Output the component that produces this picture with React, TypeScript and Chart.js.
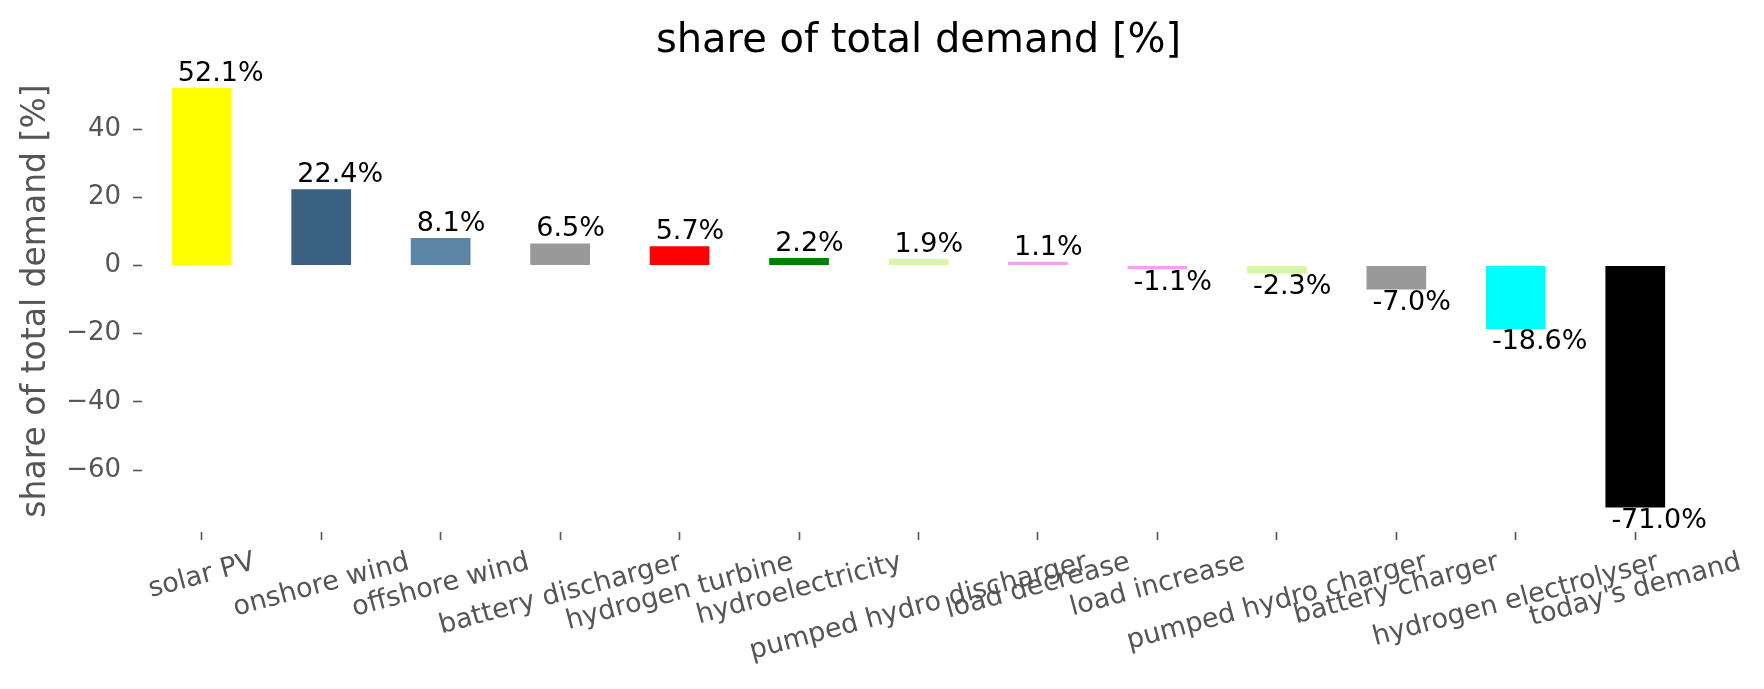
import React, { useEffect, useRef } from 'react';
import { Chart, registerables } from 'chart.js';

Chart.register(...registerables);

const categories = [
  'solar PV',
  'onshore wind',
  'offshore wind',
  'battery discharger',
  'hydrogen turbine',
  'hydroelectricity',
  'pumped hydro discharger',
  'load decrease',
  'load increase',
  'pumped hydro charger',
  'battery charger',
  'hydrogen electrolyser',
  "today's demand",
];

const values = [52.1, 22.4, 8.1, 6.5, 5.7, 2.2, 1.9, 1.1, -1.1, -2.3, -7.0, -18.6, -71.0];

const barColors = [
  '#ffff00',
  '#3b6182',
  '#5c84a5',
  '#999999',
  '#ff0000',
  '#008000',
  '#d9f6a4',
  '#f7a0f3',
  '#f7a0f3',
  '#d9f6a4',
  '#999999',
  '#00ffff',
  '#000000',
];

const yTicks = [40, 20, 0, -20, -40, -60];
const titleText = 'share of total demand [%]';
const yAxisTitle = 'share of total demand [%]';

const FONT = '"DejaVu Sans", "Liberation Sans", sans-serif';
const W = 1764;
const H = 689;

export default function App() {
  const ref = useRef<HTMLCanvasElement>(null);

  useEffect(() => {
    document.body.style.margin = '0';
    const canvas = ref.current;
    if (!canvas) return;

    const barLabels = {
      id: 'barLabels',
      afterDatasetsDraw(chart: any) {
        const ctx = chart.ctx;
        const meta = chart.getDatasetMeta(0);
        const xs = chart.scales.x;
        const catW = xs.width / categories.length;
        ctx.save();
        ctx.font = `27px ${FONT}`;
        ctx.fillStyle = '#000';
        ctx.textAlign = 'left';
        ctx.textBaseline = 'alphabetic';
        meta.data.forEach((el: any, i: number) => {
          const v = values[i];
          const left = el.x - el.width / 2 + 0.05 * catW;
          const txt = `${v.toFixed(1)}%`;
          if (v >= 0) {
            ctx.fillText(txt, left, el.y - 7.3);
          } else {
            ctx.fillText(txt, left, el.y + 20.5);
          }
        });
        ctx.restore();
      },
    };

    const xLabels = {
      id: 'xLabels',
      afterDraw(chart: any) {
        const ctx = chart.ctx;
        const xs = chart.scales.x;
        const fs = 27;
        const a = (15 * Math.PI) / 180;
        const topY = xs.top + 8 + 9;
        ctx.save();
        ctx.font = `${fs}px ${FONT}`;
        ctx.fillStyle = '#555555';
        categories.forEach((lab, i) => {
          const x = xs.getPixelForTick(i);
          const L = ctx.measureText(lab).width;
          const h = 0.968 * fs;
          const cy = topY + (L * Math.sin(a) + h * Math.cos(a)) / 2;
          ctx.save();
          ctx.translate(x, cy);
          ctx.rotate(-a);
          ctx.textAlign = 'center';
          ctx.textBaseline = 'alphabetic';
          ctx.fillText(lab, 0, 0.276 * fs);
          ctx.restore();
        });
        ctx.restore();
      },
    };

    const chart = new Chart(canvas, {
      type: 'bar',
      data: {
        labels: categories,
        datasets: [
          {
            data: values,
            backgroundColor: barColors,
            borderWidth: 0,
            barPercentage: 0.5,
            categoryPercentage: 1.0,
          },
        ],
      },
      options: {
        animation: false,
        responsive: false,
        devicePixelRatio: 1,
        layout: { padding: { left: 0, right: 69, top: 0, bottom: 0 } },
        plugins: {
          legend: { display: false },
          tooltip: { enabled: false },
          title: {
            display: true,
            text: titleText,
            color: '#000000',
            fullSize: false,
            font: { family: FONT, size: 40, weight: 'normal', lineHeight: 1.2 },
            padding: { top: 17.5, bottom: 4.5 },
          },
        },
        scales: {
          x: {
            type: 'category',
            offset: true,
            border: { display: false },
            grid: {
              display: true,
              offset: false,
              drawOnChartArea: false,
              drawTicks: true,
              tickLength: 8,
              tickWidth: 1.6,
              tickColor: '#555555',
            },
            ticks: { display: false },
            afterFit(scale: any) {
              scale.height = 157;
            },
          },
          y: {
            type: 'linear',
            min: -78.19,
            max: 57.4,
            border: { display: false },
            grid: {
              display: true,
              drawOnChartArea: false,
              drawTicks: true,
              tickLength: 9,
              tickWidth: 1.6,
              tickColor: '#555555',
            },
            afterBuildTicks(scale: any) {
              scale.ticks = yTicks.map((v) => ({ value: v }));
            },
            ticks: {
              padding: 12,
              color: '#555555',
              font: { family: FONT, size: 26 },
              callback: (v: any) => (Number(v) < 0 ? '\u2212' + Math.abs(Number(v)) : String(v)),
            },
            title: {
              display: true,
              text: yAxisTitle,
              color: '#555555',
              font: { family: FONT, size: 33, lineHeight: 1.2 },
              padding: { top: 16.7, bottom: 0 },
            },
            afterFit(scale: any) {
              scale.width = 142;
            },
          },
        },
      },
      plugins: [barLabels, xLabels],
    });

    return () => chart.destroy();
  }, []);

  return (
    <div style={{ position: 'absolute', left: 0, top: 0, width: W, height: H }}>
      <canvas ref={ref} width={W} height={H} style={{ width: W, height: H, display: 'block' }} />
    </div>
  );
}
